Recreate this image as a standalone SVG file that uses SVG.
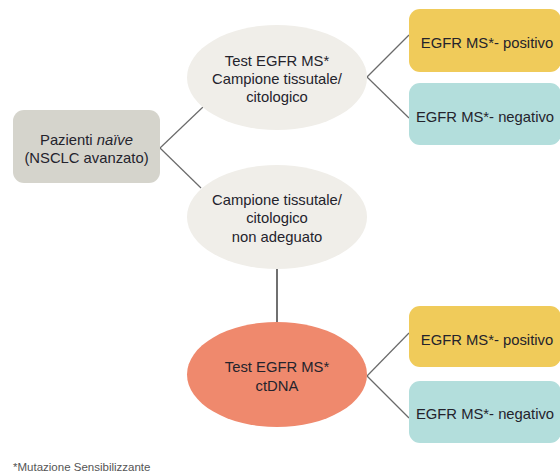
<svg xmlns="http://www.w3.org/2000/svg" width="560" height="473" viewBox="0 0 560 473">
<style>
text{font-family:"Liberation Sans",Arial,sans-serif;font-size:14.8px;fill:#24232c;text-anchor:middle}
.ell{fill:#f0eee9}
.pos{fill:#f0cb5a}
.neg{fill:#b3dedc}
.con line{stroke:#6a6a6a;stroke-width:1.2}
.foot{font-size:11.5px;fill:#555;text-anchor:start}
</style>
<rect width="560" height="473" fill="#fff"/>
<g class="con">
<line x1="160" y1="148" x2="203" y2="107"/>
<line x1="160" y1="148" x2="201" y2="188"/>
<line x1="367" y1="77" x2="409" y2="35"/>
<line x1="367" y1="77" x2="409" y2="118"/>
<line x1="277" y1="269" x2="277" y2="322" style="stroke:#111"/>
<line x1="367" y1="376" x2="409" y2="333"/>
<line x1="367" y1="376" x2="409" y2="418"/>
</g>
<g id="pazienti">
<rect x="13" y="110" width="147" height="73" rx="11" fill="#d5d4cc"/>
<text x="86.5" y="145">Pazienti <tspan font-style="italic">naïve</tspan></text>
<text x="86.5" y="163">(NSCLC avanzato)</text>
</g>
<g id="test-tissue">
<ellipse class="ell" cx="277" cy="77.5" rx="90" ry="52.5"/>
<text x="277" y="66">Test EGFR MS*</text>
<text x="277" y="84">Campione tissutale/</text>
<text x="277" y="102">citologico</text>
</g>
<g id="inadequate">
<ellipse class="ell" cx="277" cy="217" rx="90" ry="52"/>
<text x="277" y="205">Campione tissutale/</text>
<text x="277" y="223">citologico</text>
<text x="277" y="242">non adeguato</text>
</g>
<g id="test-ctdna">
<ellipse cx="277" cy="374.5" rx="90" ry="52.5" fill="#ef896d"/>
<text x="277" y="372">Test EGFR MS*</text>
<text x="277" y="391">ctDNA</text>
</g>
<g id="pos1">
<rect class="pos" x="409" y="9" width="152" height="63" rx="11"/>
<text x="487" y="48">EGFR MS*- positivo</text>
</g>
<g id="neg1">
<rect class="neg" x="409" y="83" width="152" height="62" rx="11"/>
<text x="485" y="122">EGFR MS*- negativo</text>
</g>
<g id="pos2">
<rect class="pos" x="409" y="306" width="152" height="61" rx="11"/>
<text x="487" y="345">EGFR MS*- positivo</text>
</g>
<g id="neg2">
<rect class="neg" x="409" y="381" width="152" height="62" rx="11"/>
<text x="485" y="419">EGFR MS*- negativo</text>
</g>
<text class="foot" x="13" y="471">*Mutazione Sensibilizzante</text>
</svg>
